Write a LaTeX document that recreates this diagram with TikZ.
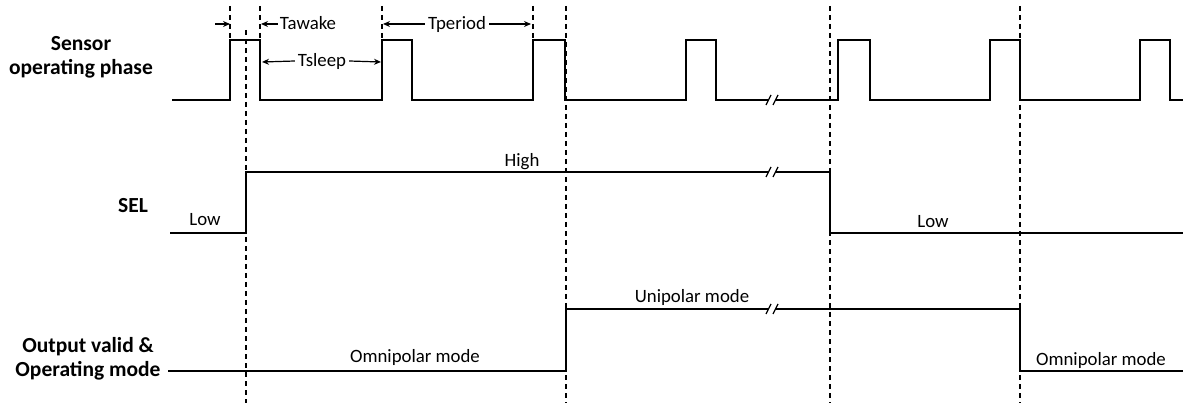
\documentclass[tikz,border=0pt]{standalone}
\usepackage{fontspec}
\setmainfont{Carlito}
\usetikzlibrary{arrows.meta}
\tikzset{
  wave/.style={line width=1.5pt, line join=miter},
  guide/.style={line width=1.2pt, dash pattern=on 5pt off 4pt},
  sig/.style={font=\fontsize{21.5}{24}\selectfont\bfseries, align=center, inner sep=0pt},
  lbl/.style={font=\fontsize{18.8}{22}\selectfont, inner sep=0pt},
  dim/.style={line width=1.2pt, -{Stealth[length=7pt,width=6pt]}},
}
% break mark on a long signal line
\newcommand{\brk}[2]{%
  \fill[white] (#1-3,#2-4) rectangle (#1+3,#2+4);
  \draw[line width=1.3pt] (#1-6,#2+5) -- (#1-1,#2-5) (#1+1,#2+5) -- (#1+6,#2-5);}
\begin{document}
\begin{tikzpicture}[x=1pt, y=-1pt]
    \useasboundingbox (0,0) rectangle (1183,403);
    % guide lines
    \foreach \x in {230, 260, 382, 533} \draw[guide] (\x,6) -- (\x,40);
    \draw[guide] (246,30) -- (246,403);
    \foreach \x in {566, 830, 1020} \draw[guide] (\x,6) -- (\x,403);

    % sensor phase
    \draw[wave] (172,100) foreach \a/\b in {230/260, 382/412, 533/565, 686/716, 838/870, 990/1020, 1140/1170} { -- (\a,100) -- (\a,40) -- (\b,40) -- (\b,100) } -- (1183,100);
    \brk{772}{100}

    % SEL
    \draw[wave] (170,233) -- (246,233) -- (246,172) -- (830,172) -- (830,233) -- (1183,233);
    \brk{772}{172}

    % output / mode
    \draw[wave] (168,371) -- (566,371) -- (566,309) -- (1020,309) -- (1020,371) -- (1183,371);
    \brk{772}{309}

    % row names
    \node[sig] (sensor) at (81,57) {Sensor\\operating phase};
    \node[sig, anchor=base] (sel) at (133,213) {SEL};
    \node[sig] (outmode) at (88,359) {Output valid \&\\Operating mode};

    % levels
    \node[lbl, anchor=base] (high) at (522,167) {High};
    \node[lbl, anchor=base] (low1) at (205,226) {Low};
    \node[lbl, anchor=base] (low2) at (933,228) {Low};
    \node[lbl, anchor=base] (omni1) at (415,362) {Omnipolar mode};
    \node[lbl, anchor=base] (uni) at (692,302) {Unipolar mode};
    \node[lbl, anchor=base] (omni2) at (1101,365) {Omnipolar mode};

    % timing
    \node[lbl, anchor=base, inner xsep=2pt] (tawake) at (308,30) {Tawake};
    \node[lbl, anchor=base, inner xsep=3pt] (tsleep) at (322,67) {Tsleep};
    \node[lbl, anchor=base, inner xsep=3pt] (tperiod) at (457,30) {Tperiod};
    \coordinate (wkstart) at (215,24);
    \coordinate (wkon) at (230,24);
    \coordinate (wkoff) at (261,24);
    \coordinate (slA) at (262,62);
    \coordinate (slB) at (381,62);
    \coordinate (prA) at (383,24);
    \coordinate (prB) at (531,24);
    \draw[dim] (wkstart) -- (wkon);
    \draw[dim] ([yshift=6pt]tawake.base west) -- (wkoff);
    \draw[dim] ([yshift=6pt]tsleep.base west) -- (slA);
    \draw[dim] ([yshift=6pt]tsleep.base east) -- (slB);
    \draw[dim] ([yshift=6pt]tperiod.base west) -- (prA);
    \draw[dim] ([yshift=6pt]tperiod.base east) -- (prB);
\end{tikzpicture}
\end{document}
